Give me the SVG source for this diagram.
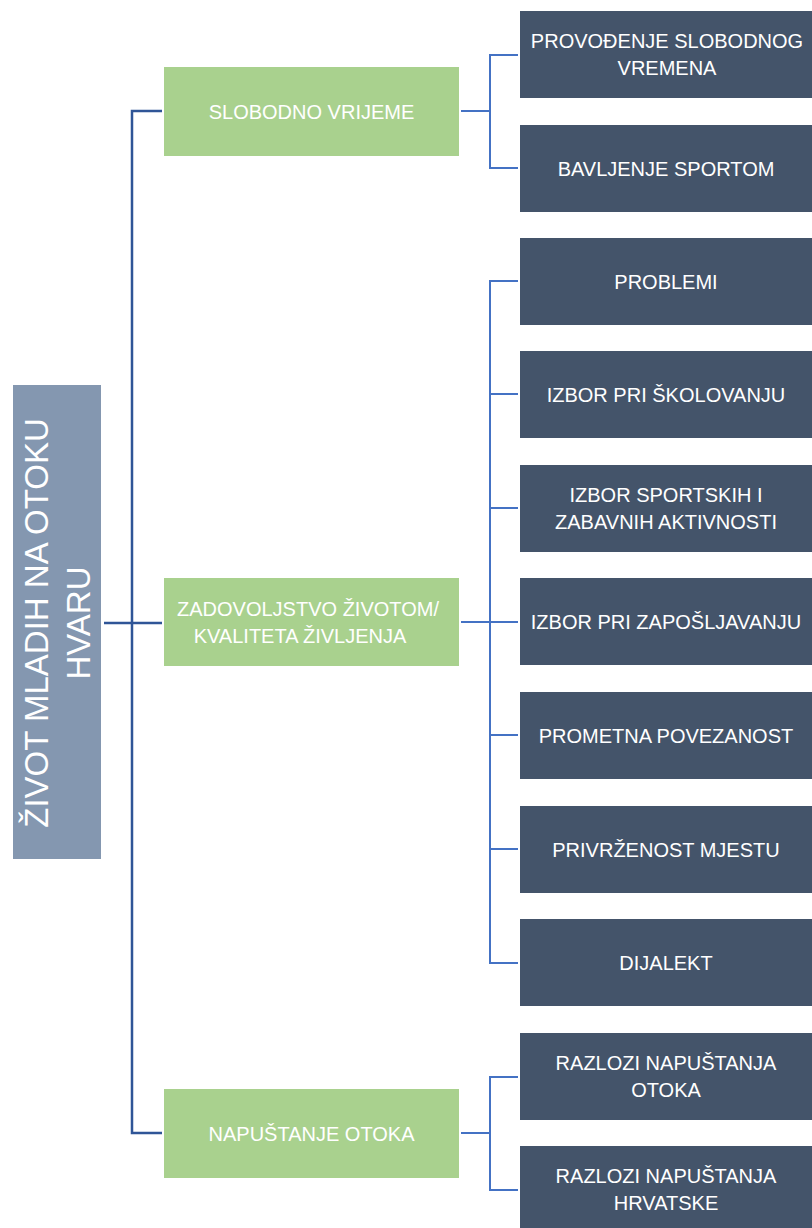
<svg xmlns="http://www.w3.org/2000/svg" width="812" height="1228" viewBox="0 0 812 1228">
<style>
.root{fill:#8497b0}
.mid{fill:#a9d18e}
.leaf{fill:#44546a}
.t{font-family:"Liberation Sans",Arial,sans-serif;fill:#ffffff;text-anchor:middle}
.ts{font-size:20px}
.tr{font-size:33px}
.c{fill:none;stroke:#4472c4;stroke-width:2}
.cr{fill:none;stroke:#2f5597;stroke-width:2.5}
</style>
<rect width="812" height="1228" fill="#ffffff"/>
<g id="connectors">
<path class="cr" d="M104,623 H162"/>
<path class="cr" d="M162,111 H132 V1133 H162"/>
<path class="c" d="M461,111 H490"/>
<path class="c" d="M518,55 H490 V168 H518"/>
<path class="c" d="M461,622 H518"/>
<path class="c" d="M518,281 H490 V963 H518"/>
<path class="c" d="M490,394 H518 M490,508 H518 M490,735 H518 M490,849 H518"/>
<path class="c" d="M461,1133 H490"/>
<path class="c" d="M518,1077 H490 V1190 H518"/>
</g>
<g id="root">
<rect class="root" x="13" y="385" width="88" height="474"/>
<g transform="translate(48,623) rotate(-90)">
<text class="t tr" x="0" y="0">ŽIVOT MLADIH NA OTOKU</text>
<text class="t tr" x="0" y="42">HVARU</text>
</g>
</g>
<g id="n-slobodno">
<rect class="mid" x="164" y="67" width="295" height="89"/>
<text class="t ts" x="311.5" y="119">SLOBODNO VRIJEME</text>
</g>
<g id="n-zadovoljstvo">
<rect class="mid" x="164" y="578" width="295" height="88"/>
<text class="t ts" x="308" y="616">ZADOVOLJSTVO ŽIVOTOM/</text>
<text class="t ts" x="300" y="643">KVALITETA ŽIVLJENJA</text>
</g>
<g id="n-napustanje">
<rect class="mid" x="164" y="1089" width="295" height="89"/>
<text class="t ts" x="311.5" y="1141">NAPUŠTANJE OTOKA</text>
</g>
<g id="l-provodjenje">
<rect class="leaf" x="520" y="11" width="292" height="87"/>
<text class="t ts" x="667" y="48">PROVOĐENJE SLOBODNOG</text>
<text class="t ts" x="667" y="75">VREMENA</text>
</g>
<g id="l-sport">
<rect class="leaf" x="520" y="125" width="292" height="87"/>
<text class="t ts" x="666" y="176">BAVLJENJE SPORTOM</text>
</g>
<g id="l-problemi">
<rect class="leaf" x="520" y="238" width="292" height="87"/>
<text class="t ts" x="666" y="289">PROBLEMI</text>
</g>
<g id="l-skolovanje">
<rect class="leaf" x="520" y="351" width="292" height="87"/>
<text class="t ts" x="666" y="402">IZBOR PRI ŠKOLOVANJU</text>
</g>
<g id="l-aktivnosti">
<rect class="leaf" x="520" y="465" width="292" height="87"/>
<text class="t ts" x="666" y="502">IZBOR SPORTSKIH I</text>
<text class="t ts" x="666" y="529">ZABAVNIH AKTIVNOSTI</text>
</g>
<g id="l-zaposljavanje">
<rect class="leaf" x="520" y="578" width="292" height="87"/>
<text class="t ts" x="666" y="629">IZBOR PRI ZAPOŠLJAVANJU</text>
</g>
<g id="l-promet">
<rect class="leaf" x="520" y="692" width="292" height="87"/>
<text class="t ts" x="666" y="743">PROMETNA POVEZANOST</text>
</g>
<g id="l-privrzenost">
<rect class="leaf" x="520" y="806" width="292" height="87"/>
<text class="t ts" x="666" y="857">PRIVRŽENOST MJESTU</text>
</g>
<g id="l-dijalekt">
<rect class="leaf" x="520" y="919" width="292" height="87"/>
<text class="t ts" x="666" y="970">DIJALEKT</text>
</g>
<g id="l-razlozi-otok">
<rect class="leaf" x="520" y="1033" width="292" height="87"/>
<text class="t ts" x="666" y="1070">RAZLOZI NAPUŠTANJA</text>
<text class="t ts" x="666" y="1097">OTOKA</text>
</g>
<g id="l-razlozi-hr">
<rect class="leaf" x="520" y="1146" width="292" height="82"/>
<text class="t ts" x="666" y="1183">RAZLOZI NAPUŠTANJA</text>
<text class="t ts" x="666" y="1210">HRVATSKE</text>
</g>
</svg>
